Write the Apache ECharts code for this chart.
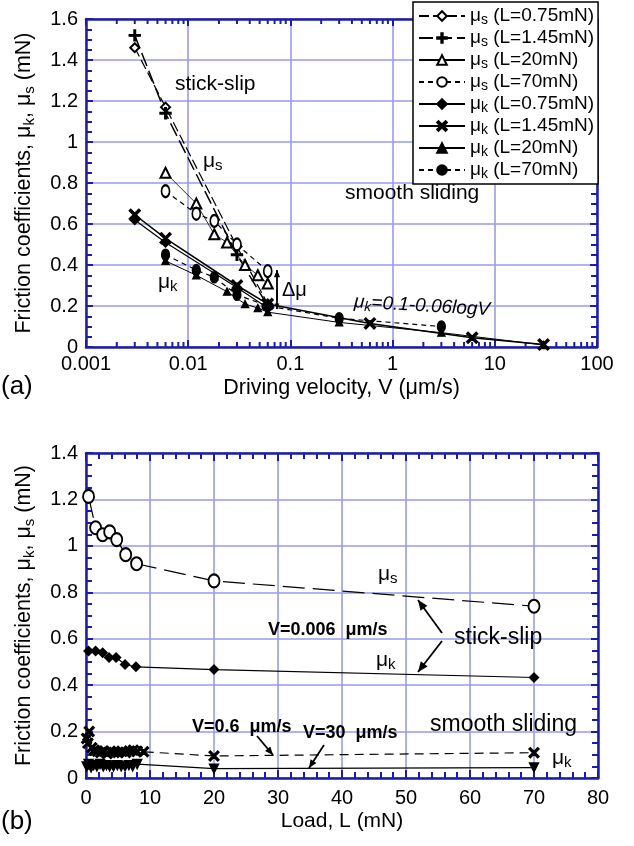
<!DOCTYPE html>
<html><head><meta charset="utf-8">
<script src="https://cdn.jsdelivr.net/npm/echarts@6/dist/echarts.min.js"></script>
<style>html,body{margin:0;padding:0;background:#fff}#c{width:634px;height:846px}</style>
</head><body><div id="c"></div>
<script>
// ---------- (a) friction vs driving velocity V (um/s) ----------
const vMusL075 = [0.003, 0.006, 0.03, 0.06];
const muS_L075 = [1.46, 1.17, 0.49, 0.21];
const vMusL145 = [0.003, 0.006, 0.03, 0.06];
const muS_L145 = [1.52, 1.14, 0.45, 0.20];
const vMusL20 = [0.006, 0.012, 0.018, 0.024, 0.036, 0.048, 0.06];
const muS_L20 = [0.85, 0.70, 0.55, 0.51, 0.40, 0.35, 0.31];
const vMusL70 = [0.006, 0.012, 0.018, 0.03, 0.06];
const muS_L70 = [0.76, 0.65, 0.615, 0.50, 0.37];
const vMukL075 = [0.003, 0.006, 0.03, 0.06];
const muK_L075 = [0.62, 0.51, 0.29, 0.19];
const vMukL145 = [0.003, 0.006, 0.03, 0.06, 0.6, 6, 30];
const muK_L145 = [0.645, 0.53, 0.30, 0.21, 0.115, 0.045, 0.012];
const vMukL20 = [0.006, 0.012, 0.024, 0.036, 0.048, 0.06, 0.3, 3, 30];
const muK_L20 = [0.42, 0.35, 0.27, 0.21, 0.19, 0.17, 0.12, 0.07, 0.01];
const vMukL70 = [0.006, 0.012, 0.018, 0.03, 0.06, 0.3, 3];
const muK_L70 = [0.45, 0.375, 0.34, 0.255, 0.20, 0.14, 0.10];
const velocityTicks = [0.001, 0.01, 0.1, 1, 10, 100];
const logMinorMultipliers = [2, 3, 4, 5, 6, 7, 8, 9];

// ---------- (b) friction vs load L (mN) ----------
const loadMusV0006 = [0.4, 1.5, 2.6, 3.7, 4.8, 6.2, 7.9, 20, 70];
const muS_V0006 = [1.213, 1.078, 1.048, 1.06, 1.027, 0.962, 0.923, 0.849, 0.74];
const loadMukV0006 = [0.4, 1.5, 2.6, 3.6, 4.7, 6.1, 7.8, 20, 70];
const muK_V0006 = [0.547, 0.547, 0.54, 0.519, 0.519, 0.489, 0.479, 0.467, 0.433];
const loadV06 = [0.1, 0.3, 0.5, 0.9, 1.3, 1.8, 2.3, 2.8, 3.3, 3.8, 4.4, 5.0, 5.6, 6.2, 6.8, 7.4, 8.0, 9.0, 20, 70];
const muK_V06 = [0.17, 0.15, 0.2, 0.13, 0.12, 0.115, 0.11, 0.115, 0.105, 0.115, 0.11, 0.11, 0.115, 0.11, 0.115, 0.12, 0.115, 0.113, 0.095, 0.109];
const loadV30 = [0.1, 0.4, 0.8, 1.2, 1.7, 2.2, 2.7, 3.2, 3.7, 4.3, 4.9, 5.5, 6.1, 6.7, 7.3, 8.0, 20, 70];
const muK_V30 = [0.05, 0.06, 0.045, 0.055, 0.05, 0.06, 0.05, 0.055, 0.05, 0.05, 0.055, 0.05, 0.05, 0.055, 0.05, 0.06, 0.04, 0.045];

const F = '"Liberation Sans", Arial, sans-serif';
const AX = '#1c1ca8', GR = '#9a9aee';
const PLUS = 'path://M4.3,0H5.7V4.3H10V5.7H5.7V10H4.3V5.7H0V4.3H4.3Z';
const CROSS = 'path://M0,1.3L1.3,0L5,3.7L8.7,0L10,1.3L6.3,5L10,8.7L8.7,10L5,6.3L1.3,10L0,8.7L3.7,5Z';
const pts = (xs, ys) => xs.map((x, i) => [x, ys[i]]);

function ser(name, xi, yi, xs, ys, sym, size, lw, type, extra) {
  return Object.assign({
    name, type: 'line', xAxisIndex: xi, yAxisIndex: yi, data: pts(xs, ys),
    symbol: sym, symbolSize: size, showSymbol: true, animation: false,
    lineStyle: {color: '#000', width: lw, type: type},
    itemStyle: {color: '#000', borderColor: '#000', borderWidth: 1.4},
    emphasis: {disabled: true}, z: 3
  }, extra || {});
}

const nameRich = {
  m: {fontSize: 21.5, lineHeight: 26, fontFamily: F, color: '#000'},
  b: {fontSize: 15, lineHeight: 15, verticalAlign: 'bottom', fontFamily: F, color: '#000'}
};
const yName = 'Friction coefficients, {m|μ}{b|k}, {m|μ}{b|s} (mN)';

function xLogAxis(grid, pos, show) {
  return {
    type: 'log', logBase: 10, gridIndex: grid, position: pos, min: 0.001, max: 100,
    axisLine: {show: true, onZero: false, lineStyle: {color: AX, width: 2.5}},
    axisTick: {show: true, inside: true, length: 7, lineStyle: {color: AX, width: 2}},
    axisLabel: {show: show, margin: 7, fontSize: 20, color: '#000', fontFamily: F},
    splitLine: {show: show, lineStyle: {color: GR, width: 1.6}},
    name: show ? 'Driving velocity, V (μm/s)' : '', nameLocation: 'middle', nameGap: 30,
    nameTextStyle: {fontSize: 21.5, color: '#000', fontFamily: F}
  };
}
function yAx(grid, pos, show, max) {
  return {
    type: 'value', gridIndex: grid, position: pos, min: 0, max: max, interval: 0.2,
    axisLine: {show: true, onZero: false, lineStyle: {color: AX, width: 2.5}},
    axisTick: {show: true, inside: true, length: 7, lineStyle: {color: AX, width: 2}},
    minorTick: {show: true, splitNumber: 4, length: 6, lineStyle: {color: AX, width: 2}},
    axisLabel: {show: show, margin: 8, fontSize: 20, color: '#000', fontFamily: F},
    splitLine: {show: show, lineStyle: {color: GR, width: 1.6}},
    name: show ? yName : '', nameLocation: 'middle', nameGap: 49, nameRotate: 90,
    nameTextStyle: {fontSize: 21.5, lineHeight: 26, color: '#000', fontFamily: F, rich: nameRich}
  };
}
function xLin(grid, pos, show) {
  return {
    type: 'value', gridIndex: grid, position: pos, min: 0, max: 80, interval: 10,
    axisLine: {show: true, onZero: false, lineStyle: {color: AX, width: 2.5}},
    axisTick: {show: true, inside: true, length: 8, lineStyle: {color: AX, width: 2}},
    minorTick: {show: true, splitNumber: 5, length: 6, lineStyle: {color: AX, width: 2}},
    axisLabel: {show: show, margin: 10, fontSize: 20, color: '#000', fontFamily: F},
    splitLine: {show: show, lineStyle: {color: GR, width: 1.6}},
    name: show ? 'Load, L (mN)' : '', nameLocation: 'middle', nameGap: 33,
    nameTextStyle: {fontSize: 21, color: '#000', fontFamily: F}
  };
}

const topNames = ['μs (L=0.75mN)', 'μs (L=1.45mN)', 'μs (L=20mN)', 'μs (L=70mN)',
                  'μk (L=0.75mN)', 'μk (L=1.45mN)', 'μk (L=20mN)', 'μk (L=70mN)'];

const option = {
  animation: false,
  backgroundColor: '#fff',
  textStyle: {fontFamily: F},
  grid: [
    {left: 86, top: 19, width: 511, height: 328},
    {left: 86, top: 453, width: 512, height: 325}
  ],
  xAxis: [xLogAxis(0, 'bottom', true), xLogAxis(0, 'top', false), xLin(1, 'bottom', true), xLin(1, 'top', false)],
  yAxis: [yAx(0, 'left', true, 1.6), yAx(0, 'right', false, 1.6), yAx(1, 'left', true, 1.4), yAx(1, 'right', false, 1.4)],
  legend: {
    data: topNames, left: 413, top: 2, orient: 'vertical', itemGap: 0,
    itemWidth: 46, itemHeight: 12, padding: [3, 4, 3, 5],
    backgroundColor: '#fff', borderColor: '#000', borderWidth: 1.5, z: 10,
    selectedMode: false,
    formatter: n => '{m|μ}{b|' + n[1] + '}{t|' + n.slice(2) + '}',
    textStyle: {color: '#000', fontFamily: F, fontSize: 19, lineHeight: 22,
      rich: {m: {fontSize: 19, lineHeight: 22, fontFamily: F, color: '#000'},
             t: {fontSize: 19, lineHeight: 22, fontFamily: F, color: '#000'},
             b: {fontSize: 14, lineHeight: 14, verticalAlign: 'bottom', fontFamily: F, color: '#000'}}}
  },
  series: [
    ser(topNames[0], 0, 0, vMusL075, muS_L075, 'emptyDiamond', 9, 1.2, [10, 4]),
    ser(topNames[1], 0, 0, vMusL145, muS_L145, PLUS, 11, 1.5, [14, 5]),
    ser(topNames[2], 0, 0, vMusL20, muS_L20, 'emptyTriangle', 10, 0.8, 'solid'),
    ser(topNames[3], 0, 0, vMusL70, muS_L70, 'emptyCircle', [8, 12], 1.2, [5, 4]),
    ser(topNames[4], 0, 0, vMukL075, muK_L075, 'diamond', 9, 1.2, 'solid'),
    ser(topNames[5], 0, 0, vMukL145, muK_L145, CROSS, 11, 1.5, 'solid'),
    ser(topNames[6], 0, 0, vMukL20, muK_L20, 'triangle', 7, 1, 'solid'),
    ser(topNames[7], 0, 0, vMukL70, muK_L70, 'circle', [8, 11], 1.2, [5, 4]),
    ser('muS V=0.006', 2, 2, loadMusV0006, muS_V0006, 'emptyCircle', [11, 13], 1.2, [22, 8]),
    ser('muK V=0.006', 2, 2, loadMukV0006, muK_V0006, 'diamond', 9, 1.2, 'solid'),
    ser('muK V=0.6', 2, 2, loadV06, muK_V06, CROSS, 10, 1.2, [9, 6]),
    ser('muK V=30', 2, 2, loadV30, muK_V30, 'triangle', 9, 1.2, 'solid', {symbolRotate: 180})
  ]
};

const chart = echarts.init(document.getElementById('c'));
chart.setOption(option);

// ---- minor log ticks and annotations ----
const g = [];
const yBot = chart.convertToPixel({yAxisIndex: 0}, 0);
const yTop = chart.convertToPixel({yAxisIndex: 0}, 1.6);
velocityTicks.slice(0, -1).forEach(d => logMinorMultipliers.forEach(k => {
  const x = chart.convertToPixel({xAxisIndex: 0}, d * k);
  g.push({type: 'line', z: 1, shape: {x1: x, y1: yBot, x2: x, y2: yBot - 5}, style: {stroke: AX, lineWidth: 2}});
  g.push({type: 'line', z: 1, shape: {x1: x, y1: yTop, x2: x, y2: yTop + 5}, style: {stroke: AX, lineWidth: 2}});
}));

function txt(x, y, text, size, opts) {
  g.push(Object.assign({type: 'text', x: x, y: y, z: 50,
    style: Object.assign({text: text, fontSize: size, fontFamily: F, fill: '#000', verticalAlign: 'middle', align: 'left'}, (opts && opts.style) || {})},
    (opts && opts.el) || {}));
}
function mu(x, y, sub, size, extra) {
  g.push(Object.assign({type: 'text', x: x, y: y, z: 50,
    style: {text: '{m|μ}{b|' + sub + '}' + ((extra && extra.tail) || ''), fontFamily: F, fill: '#000', fontSize: size,
      fontStyle: (extra && extra.italic) ? 'italic' : 'normal',
      verticalAlign: 'middle', align: (extra && extra.align) || 'left',
      rich: {m: {fontSize: size, lineHeight: size + 4, fontFamily: F, fontStyle: (extra && extra.italic) ? 'italic' : 'normal'},
             b: {fontSize: Math.round(size * 0.72), lineHeight: Math.round(size * 0.72), verticalAlign: 'bottom', fontFamily: F, fontStyle: (extra && extra.italic) ? 'italic' : 'normal'},
             t: {fontSize: size, lineHeight: size + 4, fontFamily: F, fontStyle: (extra && extra.italic) ? 'italic' : 'normal'}}}},
    (extra && extra.el) || {}));
}
function arrow(x1, y1, x2, y2, head) {
  head = head || 9;
  g.push({type: 'line', z: 50, shape: {x1, y1, x2, y2}, style: {stroke: '#000', lineWidth: 1.8}});
  const a = Math.atan2(y2 - y1, x2 - x1), w = 0.4;
  g.push({type: 'polygon', z: 50, shape: {points: [[x2, y2],
    [x2 - head * Math.cos(a - w), y2 - head * Math.sin(a - w)],
    [x2 - head * Math.cos(a + w), y2 - head * Math.sin(a + w)]]}, style: {fill: '#000'}});
}

// (a) annotations
txt(175, 84, 'stick-slip', 21);
mu(203, 161, 's', 21);
mu(158, 282, 'k', 21);
txt(345, 193, 'smooth sliding', 21);
txt(282, 290, 'Δμ', 20);
arrow(277, 300, 277, 270, 8);
arrow(277, 290, 277, 309, 6);
mu(422, 306, 'k', 19, {italic: true, align: 'center', tail: '{t|=0.1-0.06logV}', el: {rotation: -0.06}});
txt(1, 387, '(a)', 26);

// (b) annotations
mu(378, 574, 's', 21);
txt(268, 630, 'V=0.006  μm/s', 18, {style: {fontWeight: 'bold'}});
txt(454, 638, 'stick-slip', 23);
arrow(442, 633, 418, 600, 11);
arrow(442, 641, 418, 672, 11);
mu(376, 660, 'k', 21);
txt(430, 725, 'smooth sliding', 23);
txt(192, 727, 'V=0.6  μm/s', 18, {style: {fontWeight: 'bold'}});
arrow(257, 736, 273, 755, 9);
txt(303, 733, 'V=30  μm/s', 18, {style: {fontWeight: 'bold'}});
arrow(324, 745, 309, 768, 9);
mu(552, 758, 'k', 21);
txt(1, 822, '(b)', 26);

chart.setOption({graphic: g});
</script>
</body></html>
